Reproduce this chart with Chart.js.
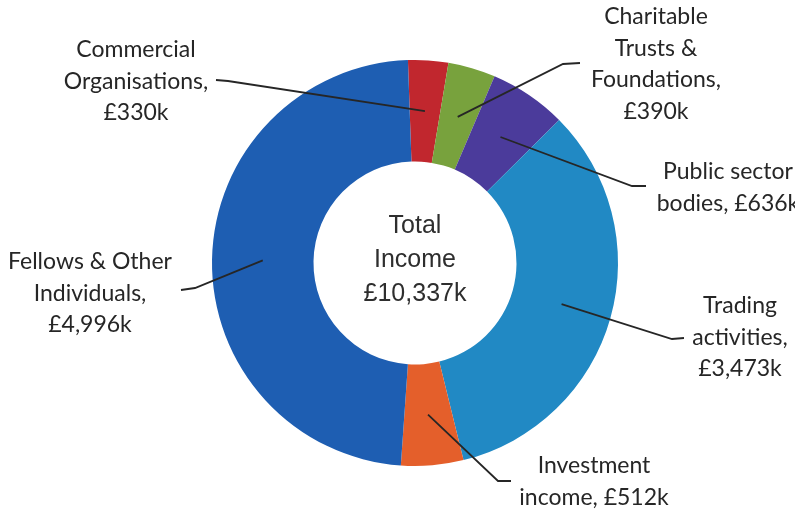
<!DOCTYPE html>
<html>
<head>
<meta charset="utf-8">
<script src="https://cdn.jsdelivr.net/npm/chart.js@4"></script>
<style>
  html, body { margin: 0; padding: 0; background: #fff; }
  #wrap { width: 795px; height: 510px; position: relative; }
</style>
</head>
<body>
<div id="wrap"><canvas id="incomeChart" width="795" height="510"></canvas></div>
<script>
// income sources, clockwise from the top
const categories = [
    "Commercial Organisations",
    "Charitable Trusts & Foundations",
    "Public sector bodies",
    "Trading activities",
    "Investment income",
    "Fellows & Other Individuals"
];
const incomeValues = [330, 390, 636, 3473, 512, 4996];
const sliceColors = ["#c1272e", "#78a23d", "#4b3b9b", "#2189c4", "#e45f2b", "#1e5eb2"];

// how each label is broken into lines; "inline" puts the amount on the last line
const labelLines = [
    ["Commercial", "Organisations,"],
    ["Charitable", "Trusts &", "Foundations,"],
    ["Public sector", "bodies,"],
    ["Trading", "activities,"],
    ["Investment", "income,"],
    ["Fellows & Other", "Individuals,"]
];
const inlineAmount = [false, false, true, false, true, false];

const fmtK = (v) => "£" + v.toLocaleString("en-GB") + "k";
const totalIncome = incomeValues.reduce((a, b) => a + b, 0);

// where the text blocks sit and how the leader lines bend
const labelLayout = [
    { x: 136, y: 50, knee: [228, 81], end: [216, 80] },
    { x: 656, y: 17, knee: [563, 64], end: [580, 63] },
    { x: 728, y: 172, knee: [632, 186], end: [646, 186] },
    { x: 740, y: 306, knee: [672, 339], end: [684, 338] },
    { x: 594, y: 466, knee: [498, 481], end: [511, 481] },
    { x: 90, y: 262, knee: [195, 288], end: [181, 290] }
];

function linesFor(i) {
    const lines = labelLines[i].slice();
    if (inlineAmount[i]) {
        lines[lines.length - 1] += " " + fmtK(incomeValues[i]);
    } else {
        lines.push(fmtK(incomeValues[i]));
    }
    return lines;
}

const calloutPlugin = {
    id: "callouts",
    afterDatasetsDraw(chart) {
        const ctx = chart.ctx;
        const meta = chart.getDatasetMeta(0);
        ctx.save();
        // leader lines from the middle of each slice
        ctx.strokeStyle = "#262626";
        ctx.lineWidth = 1.8;
        meta.data.forEach((arc, i) => {
            const p = arc.tooltipPosition();
            const lay = labelLayout[i];
            ctx.beginPath();
            ctx.moveTo(p.x, p.y);
            ctx.lineTo(lay.knee[0], lay.knee[1]);
            ctx.lineTo(lay.end[0], lay.end[1]);
            ctx.stroke();
        });
        // slice labels
        ctx.fillStyle = "#262626";
        ctx.font = "23px Lato, 'Open Sans', sans-serif";
        ctx.textAlign = "center";
        ctx.textBaseline = "middle";
        meta.data.forEach((arc, i) => {
            const lay = labelLayout[i];
            linesFor(i).forEach((t, k) => {
                ctx.fillText(t, lay.x, lay.y + k * 31.5);
            });
        });
        // total in the hole
        const cx = (chart.chartArea.left + chart.chartArea.right) / 2;
        const cy = (chart.chartArea.top + chart.chartArea.bottom) / 2;
        ctx.fillStyle = "#2e2e2e";
        ctx.font = "25px 'Liberation Sans', Arial, sans-serif";
        ["Total", "Income", fmtK(totalIncome)].forEach((t, k) => {
            ctx.fillText(t, cx, cy - 37 + k * 34);
        });
        ctx.restore();
    }
};

new Chart(document.getElementById("incomeChart"), {
    type: "doughnut",
    data: {
        labels: categories,
        datasets: [{
            data: incomeValues,
            backgroundColor: sliceColors,
            borderWidth: 0
        }]
    },
    options: {
        responsive: false,
        animation: false,
        rotation: -2,
        cutout: "50%",
        layout: { padding: { left: 212, right: 177, top: 60, bottom: 44 } },
        plugins: {
            legend: { display: false },
            tooltip: { enabled: false }
        }
    },
    plugins: [calloutPlugin]
});
</script>
</body>
</html>
